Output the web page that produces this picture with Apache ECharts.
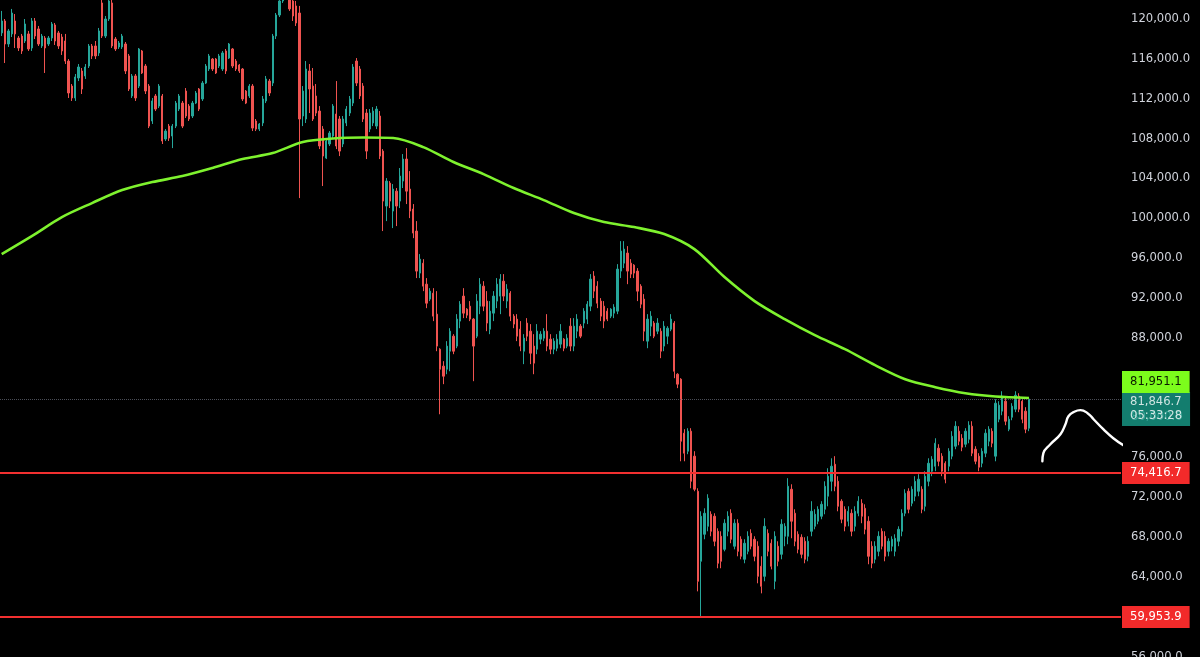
<!DOCTYPE html>
<html>
<head>
<meta charset="utf-8">
<script src="https://cdn.jsdelivr.net/npm/echarts@6/dist/echarts.min.js"></script>
<style>
  html, body { margin: 0; padding: 0; background: #000; }
  #chart { width: 1200px; height: 657px; }
</style>
</head>
<body>
<div id="chart"></div>
<script>
// candles: [open, close, low, high]
const ohlc = [
  [118600,119800,118290,120810],[119800,117490,115580,120000],[117490,118800,117190,119000],[118500,120600,118190,121010],
  [119800,118500,117090,120500],[118090,117090,116790,118290],[118290,116790,116490,118500],[117790,119500,117590,120000],
  [118500,116990,116790,118800],[117090,119800,116790,120100],[119800,118290,117990,120100],[119000,117490,117290,119300],
  [117290,118290,117090,118500],[118090,117090,114580,118290],[117490,118090,117290,118290],[118090,119500,117790,119700],
  [119400,117790,117390,119600],[118600,117290,116990,118800],[118190,116790,116390,118500],[117790,115780,115480,118500],
  [115780,112570,112070,115980],[113270,112070,111770,113470],[112070,114180,111770,114480],[114080,115180,113770,115480],
  [114780,112970,112470,115080],[114280,115180,113980,115480],[115280,117290,115080,117490],[117290,116290,115980,117490],
  [117290,116290,115980,117790],[116590,118800,116290,119100],[121610,118290,118090,122610],[118290,120000,118090,120300],
  [120000,121810,119800,122820],[121610,117290,117090,122610],[117990,116990,116790,118190],[117190,117590,116990,117790],
  [117190,118290,116990,118500],[117490,114780,114480,117690],[116290,112970,112770,116490],[112270,114280,112070,114480],
  [114280,112070,111770,114480],[113270,116990,113070,117090],[116790,114580,114480,116890],[115280,112770,112470,115480],
  [113270,109250,109050,113470],[109760,111770,109460,112070],[112270,110960,110760,112470],[111260,113270,111060,113470],
  [112270,107750,107450,112470],[107950,108750,107750,108950],[109250,108050,107750,109460],[108250,109250,107040,109460],
  [109250,111560,109050,111770],[110960,112270,110760,112470],[111560,109250,109050,111770],[112770,110260,110060,113070],
  [111260,109960,109760,111460],[110260,111560,110060,111770],[111560,112570,111460,112770],[112970,110960,110760,113070],
  [111970,113570,111770,113770],[113570,115280,113470,115480],[114980,116290,114780,116490],[115980,114980,114780,116080],
  [115980,114580,114480,116080],[115280,116290,115080,116490],[114980,116590,114780,116790],[116790,114780,114480,116990],
  [116080,117490,115980,117590],[116990,115280,115080,117090],[115780,114980,114780,115980],[115380,114780,114580,115480],
  [114980,111970,111770,115080],[112770,111560,111460,112870],[112270,113270,112070,113470],[113270,109050,108750,113470],
  [109760,108950,108750,109960],[108950,109460,108750,109560],[109560,111970,109250,112270],[111770,113980,111560,114280],
  [113770,112570,112270,113980],[113570,118290,113270,118500],[118290,120400,117990,120600],[120400,121810,120200,122610],
  [121810,123320,121610,123820],[123320,122310,122010,124320],[122310,121010,120810,123320],[121810,120300,119800,122610],
  [121310,119600,119300,121810],[120600,109960,102020,121310],[110260,112770,109250,113270],[109960,114980,109560,115780],
  [114780,112970,110560,115480],[113270,109960,109760,115080],[112270,110560,110260,113470],[110760,107250,106940,111260],
  [108950,106240,103230,109250],[106040,107750,105940,108050],[107450,108550,107250,108750],[108250,111260,107950,111460],
  [110460,107250,106940,113770],[109960,106740,106240,110260],[107450,109960,107140,110260],[109560,110960,109250,111260],
  [110560,111970,110260,112270],[111560,115180,111260,115480],[115780,113570,113270,116080],[114980,112270,111970,115280],
  [113270,109960,109660,113570],[110560,106740,105940,110960],[108950,110560,108650,110960],[109560,110760,109250,111160],
  [109250,110960,108950,111260],[110260,106240,105940,110760],[106740,101720,98710,106940],[101220,103730,99710,104030],
  [103530,101720,101020,103730],[100720,102930,99010,103430],[102720,101220,99210,103030],[101720,104230,101020,105040],
  [103730,105940,103030,106440],[105940,102720,101420,107040],[102930,100720,100010,104730],[100920,98510,98000,101420],
  [98710,94690,93990,99710],[94490,95890,93990,96400],[95490,93180,92680,95890],[93380,91470,90970,93990],
  [91880,92680,91680,92980],[92480,90170,89670,92980],[90370,87160,86650,92680],[86850,84840,80320,86950],
  [85150,84140,83340,85650],[84840,87160,84340,87660],[86650,88660,84640,88960],[88160,86650,86350,88360],
  [87160,89870,86950,90370],[89670,91370,88960,91680],[92180,90470,89970,92980],[90870,90270,89970,90970],
  [91170,89870,89670,91680],[89870,87160,83640,89970],[88160,91680,87960,92380],[91170,93380,90370,93990],
  [93180,91170,90670,93680],[91680,89470,88660,92680],[88860,90670,88360,91680],[90470,92180,89670,92680],
  [91680,93380,90970,93990],[92180,93890,90370,94390],[93680,92180,91680,94390],[91680,92880,90970,93380],
  [92480,90170,89670,92680],[90170,89370,88960,90370],[89870,88160,87660,90370],[88860,87160,86650,89670],
  [86650,87960,85350,88360],[89470,88160,87660,89970],[88660,86450,85350,89370],[87160,85450,84340,88360],
  [86850,88660,86350,89370],[87860,88360,87360,88660],[87960,88660,87660,88960],[88660,87160,86650,90370],
  [87860,86850,86350,88360],[86850,87660,86350,87960],[86950,87860,86650,88360],[87360,88660,86950,89370],
  [87860,86950,86650,87960],[87160,87960,86950,88360],[89160,87160,86650,89970],[87160,89160,86650,89970],
  [88660,89870,87960,90370],[89160,88160,87960,89370],[89470,90670,88960,90970],[89870,91370,89370,91680],
  [91170,93890,90670,94390],[94190,92680,91980,94690],[93180,91470,90970,93680],[91680,90170,89670,91980],
  [91170,89670,88960,91680],[90670,89870,89670,90970],[90170,90870,89970,90970],[90470,91070,89970,91370],
  [90670,94890,90370,95390],[94690,96700,93990,97700],[95490,96900,94990,97700],[96500,94690,93380,97200],
  [95490,94390,93990,95890],[95290,94490,93990,95390],[94690,92680,91680,94990],[93180,91370,90970,93380],
  [91880,88660,87660,92380],[87660,89870,86950,90370],[89160,90170,88160,90670],[89470,88160,87960,89670],
  [88660,89470,88360,89970],[88660,86650,85950,88960],[87160,89160,86650,89670],[88160,88960,87360,89160],
  [88860,89870,88660,90370],[89470,84640,83940,89670],[84340,83340,82940,84440],[83840,77610,75600,83940],
  [78420,76410,75600,78820],[76610,78620,76310,78920],[78620,73590,72890,78920],[76110,72790,72590,76610],
  [72590,63550,62540,72890],[65560,70080,59950,70580],[68270,70380,67770,70880],[69070,71890,68570,72290],
  [70280,68570,68070,70580],[70080,67570,67070,70380],[68570,65360,64860,68870],[68070,65560,64860,68570],
  [66760,69380,66560,69780],[68570,70080,68070,70580],[70380,67770,67370,70780],[67070,69380,66760,69780],
  [69380,66560,66060,69780],[67770,66060,65760,68070],[65760,67370,65360,67770],[66560,68070,66260,68570],
  [68370,67070,66760,68770],[67770,66060,65560,68070],[67070,64050,63350,67570],[65060,63050,62340,66060],
  [64050,69070,63550,69880],[68370,66560,66060,68770],[67370,65060,64750,67770],[63550,68070,62750,68570],
  [67070,65560,65060,67570],[66260,69280,65760,69780],[68070,69070,67070,69380],[68070,73090,67270,73900],
  [72790,69580,67870,73290],[70380,67570,67070,70780],[68270,66760,66360,68570],[67970,66260,65860,68270],
  [67570,65760,65360,67970],[66060,67570,65560,68070],[68570,70580,68070,71590],[69070,70280,68770,70780],
  [69580,70780,69280,71080],[70080,71280,69780,71590],[70780,73090,70280,73590],[72090,74100,71080,74900],
  [73590,75100,72590,75900],[75300,73090,72590,76110],[73590,71080,70580,74100],[71590,69780,69380,71790],
  [70780,69070,68570,71080],[69580,70580,69070,71080],[70380,68570,68070,70780],[69070,70580,68570,71080],
  [70380,71590,70080,72090],[71380,70080,69380,71790],[70880,68770,68270,71280],[69580,66060,65260,70080],
  [67070,65360,64860,67570],[65760,67070,65360,67570],[66560,68070,66060,68570],[68570,67070,66760,68870],
  [68070,66060,65560,68570],[66560,67570,66060,67870],[67070,67770,66560,68070],[66560,67870,66060,68270],
  [67570,68770,67070,69070],[68570,70380,68070,70780],[70380,72390,70080,72790],[72590,70780,70380,72890],
  [71380,72790,71080,73090],[72090,73590,71590,74100],[72590,73800,72090,74300],[72790,70780,70380,73090],
  [71080,74100,70580,74600],[73590,75400,73090,75900],[74600,75800,74100,76110],[75100,77410,74600,77910],
  [76910,75600,75100,77310],[76110,74600,74100,76410],[75400,73800,73390,75600],[75100,76610,74600,76910],
  [76110,78110,75800,78620],[77110,79120,76810,79620],[78620,77610,77210,79120],[77910,77010,76610,78320],
  [77310,78620,77010,78920],[77810,79220,77410,79620],[79120,76410,76110,79620],[76810,75600,75300,77110],
  [76110,75000,74600,76410],[75400,76610,75000,76910],[76410,78420,76010,78820],[77610,78820,77110,79120],
  [78620,77410,77010,78920],[76110,81430,75600,81830],[79820,81230,79520,81630],[80630,82130,80220,82630],
  [81630,79620,79220,82130],[78820,79820,78620,80120],[80020,81130,79720,81430],[80830,82230,80530,82630],
  [82130,80830,80530,82430],[81630,79820,79420,82030],[80630,78820,78420,81030],[78920,81846.7,78620,82030]
];

// moving average, sampled at candle indexes
const maIndex = [0, 9, 18, 27, 36, 45, 54, 63, 72, 81, 90, 99, 108, 117, 126, 135, 144, 153, 162, 171, 180,
  189, 198, 207, 216, 225, 234, 243, 252, 261, 270, 279, 288, 297, 307];
const maValue = [96400, 98200, 100110, 101520, 102830, 103630, 104230, 105040, 105940, 106540, 107650, 108000,
  108100, 108050, 107140, 105640, 104430, 103030, 101820, 100520, 99610, 99110, 98410, 96900, 94090, 91680,
  89870, 88260, 86850, 85250, 83840, 83040, 82430, 82100, 81951.1];

const levels = [74416.7, 59953.9];
const lastPrice = 81846.7;
const countdown = '05:33:28';
const maLast = 81951.1;

// hand-drawn sketch after the last candle (bar position, price)
const sketchX = [311.0, 311.3, 313.4, 316.4, 317.9, 318.8, 320.3, 322.4, 324.5, 326.3, 329.2, 332.2, 335.2];
const sketchY = [75600, 76410, 77310, 78320, 79320, 80120, 80530, 80730, 80430, 79820, 78820, 77910, 77210];

const barCount = 335;
const categories = Array.from({ length: barCount }, (_, i) => String(i));

const fmt = v => v.toLocaleString('en-US', { minimumFractionDigits: 1, maximumFractionDigits: 1 });
const font = 'DejaVu Sans';

const chart = echarts.init(document.getElementById('chart'));

chart.setOption({
  backgroundColor: '#000000',
  animation: false,
  grid: { left: 0, right: 79, top: 19, bottom: 0.5, containLabel: false, outerBoundsMode: 'none' },
  xAxis: [
    { type: 'category', data: categories, boundaryGap: true, show: false },
    { type: 'value', min: -0.5, max: barCount - 0.5, show: false }
  ],
  yAxis: {
    type: 'value',
    position: 'right',
    min: 56000,
    max: 120000,
    interval: 4000,
    splitLine: { show: false },
    axisLine: { show: false },
    axisTick: { show: false },
    axisLabel: {
      margin: 10,
      color: '#d1d4dc',
      fontFamily: font,
      fontSize: 11.6,
      formatter: fmt
    }
  },
  series: [
    {
      name: 'price',
      type: 'candlestick',
      data: ohlc,
      clip: false,
      barWidth: 1.8,
      z: 2,
      itemStyle: {
        color: '#26a69a',
        color0: '#ef5350',
        borderColor: '#26a69a',
        borderColor0: '#ef5350',
        borderWidth: 1
      },
      markLine: {
        silent: true,
        symbol: ['none', 'none'],
        data: [
          ...levels.map(v => ({
            yAxis: v,
            lineStyle: { color: '#f23030', width: 2, type: 'solid' },
            label: {
              show: true, position: 'end', distance: 1,
              formatter: fmt(v),
              backgroundColor: '#f22a2a', color: '#ffffff',
              fontFamily: font, fontSize: 11.6, lineHeight: 14,
              padding: [4, 8, 4, 8]
            }
          })),
          {
            yAxis: lastPrice,
            lineStyle: { color: '#5d606b', width: 1, type: 'dotted', opacity: 0.8 },
            label: {
              show: true, position: 'end', distance: 1,
              offset: [0, 10],
              formatter: fmt(lastPrice) + '\n' + countdown,
              backgroundColor: '#189c89', color: '#ffffff',
              fontFamily: font, fontSize: 11.6, lineHeight: 14,
              padding: [3, 8, 3, 8]
            }
          }
        ]
      }
    },
    {
      name: 'MA',
      type: 'line',
      data: maIndex.map((idx, k) => [idx, maValue[k]]),
      smooth: 0.3,
      showSymbol: false,
      z: 3,
      lineStyle: { color: '#7ef22e', width: 2.6 },
      markLine: {
        silent: true,
        symbol: ['none', 'none'],
        data: [{
          yAxis: maLast,
          lineStyle: { width: 1, color: 'rgba(0,0,0,0)' },
          label: {
            show: true, position: 'end', distance: 1,
            offset: [0, -16],
            formatter: fmt(maLast),
            backgroundColor: '#7cfc1c', color: '#0b1a00',
            fontFamily: font, fontSize: 11.6, lineHeight: 14,
            padding: [4, 8, 4, 8]
          }
        }]
      }
    },
    {
      name: 'sketch',
      type: 'line',
      xAxisIndex: 1,
      data: sketchX.map((x, k) => [x, sketchY[k]]),
      smooth: 0.5,
      clip: false,
      showSymbol: false,
      z: 4,
      lineStyle: { color: '#ffffff', width: 2.4, cap: 'round', join: 'round' }
    }
  ]
});
</script>
</body>
</html>
